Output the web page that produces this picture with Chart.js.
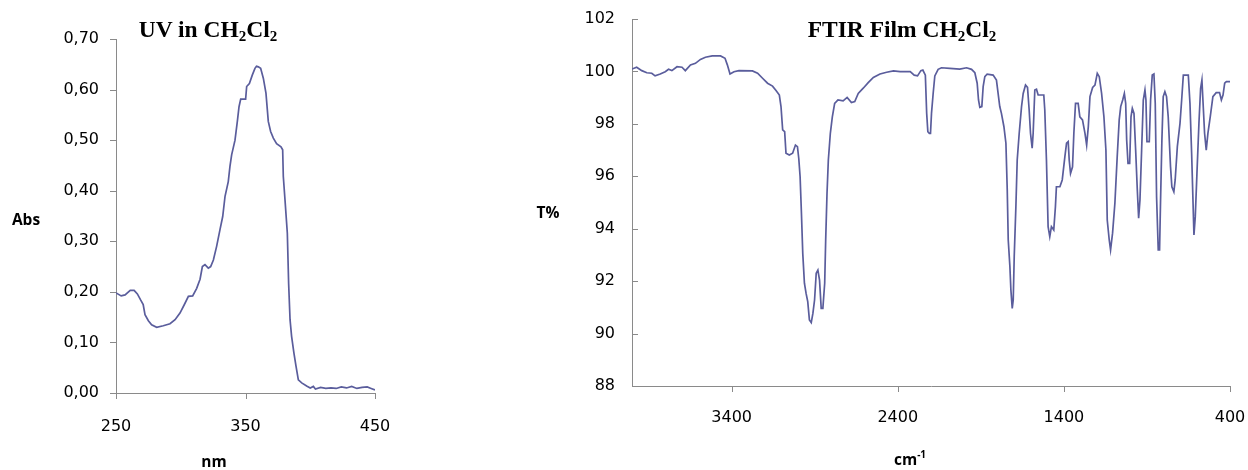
<!DOCTYPE html>
<html>
<head>
<meta charset="utf-8">
<script src="https://cdn.jsdelivr.net/npm/chart.js@4.4.1/dist/chart.umd.min.js"></script>
<style>
  body { margin: 0; background: #fff; width: 1248px; height: 470px; position: relative; overflow: hidden; }
  .box { position: absolute; top: 0; height: 470px; }
  .lbl { position: absolute; transform: translate(-50%, -50%); white-space: nowrap; color: #000; }
  .title { font-family: "Liberation Serif", "Times New Roman", serif; font-weight: bold; font-size: 23.5px; }
  .title sub { font-size: 15px; vertical-align: -4px; line-height: 0; }
  .axt { font-family: "Open Sans", sans-serif; font-weight: bold; font-size: 15.5px; }
  .axt sup { font-size: 10px; vertical-align: 7px; line-height: 0; }
</style>
</head>
<body>
<div class="box" style="left:0;width:400px"><canvas id="uvChart"></canvas></div>
<div class="box" style="left:500px;width:748px"><canvas id="irChart"></canvas></div>

<div class="lbl title" style="left:208px;top:29px">UV in CH<sub>2</sub>Cl<sub>2</sub></div>
<div class="lbl axt" style="left:26px;top:219px">Abs</div>
<div class="lbl axt" style="left:214px;top:461px">nm</div>

<div class="lbl title" style="left:902px;top:29px">FTIR Film CH<sub>2</sub>Cl<sub>2</sub></div>
<div class="lbl axt" style="left:548px;top:212px">T%</div>
<div class="lbl axt" style="left:910px;top:459px">cm<sup>-1</sup></div>

<script>
// UV 스펙트럼 (nm / Abs)
const uvNm = [250, 254, 257, 261, 264, 266.5, 269, 271, 272.4, 275, 277.5, 281.4, 286.5, 291.7, 295.6, 299.4, 302.8, 305.9, 309.2, 312.3,
    314.9, 316.7, 318.7, 321.3, 323.1, 325.2, 327.7, 330.3, 332.4, 334.2, 336.7, 338, 339.3, 341.9, 343.7, 345, 346.3, 350.1, 350.9, 353,
    355.3, 357.3, 358.5, 359.9, 361.7, 363.8, 365.8, 367.6, 369.4, 371.5, 374, 377.4, 378.7, 379.2, 380.5, 382.3, 383.3, 384.4, 385.6, 387.4,
    389, 390.8, 393.4, 397.2, 400, 402.4, 404, 408, 412, 416, 420, 424, 428, 432, 436, 440, 444, 447, 450];
const uvAbs = [0.198, 0.192, 0.194, 0.203, 0.203, 0.196, 0.184, 0.175, 0.155, 0.143, 0.135, 0.130, 0.133, 0.137, 0.145, 0.158, 0.175, 0.191, 0.192, 0.207,
    0.225, 0.250, 0.254, 0.247, 0.250, 0.263, 0.290, 0.323, 0.349, 0.389, 0.418, 0.448, 0.471, 0.500, 0.537, 0.566, 0.581, 0.581, 0.606, 0.612,
    0.629, 0.642, 0.646, 0.645, 0.642, 0.622, 0.593, 0.537, 0.517, 0.504, 0.493, 0.487, 0.481, 0.428, 0.382, 0.316, 0.217, 0.145, 0.112, 0.079,
    0.053, 0.026, 0.020, 0.014, 0.010, 0.013, 0.008, 0.011, 0.009, 0.010, 0.009, 0.012, 0.010, 0.013, 0.009, 0.011, 0.012, 0.009, 0.006];
const uvXTicks = [250, 350, 450];
const uvYTicks = [0, 0.1, 0.2, 0.3, 0.4, 0.5, 0.6, 0.7];

// FTIR 스펙트럼 (cm-1 / T%)
const irWn = [4000, 3972, 3941, 3911, 3881, 3861, 3830, 3800, 3780, 3760, 3729, 3699, 3679, 3648, 3618, 3588, 3558, 3517, 3467, 3440,
    3426, 3410, 3386, 3356, 3275, 3244, 3214, 3184, 3154, 3133, 3113, 3103, 3093, 3081, 3073, 3053, 3033, 3016, 3004, 2996,
    2988, 2980, 2972, 2962, 2952, 2942, 2932, 2921, 2911, 2901, 2891, 2881, 2871, 2861, 2851, 2840, 2834, 2826, 2818, 2806,
    2794, 2780, 2760, 2729, 2705, 2679, 2659, 2638, 2608, 2578, 2547, 2507, 2467, 2426, 2386, 2325, 2301, 2281, 2261, 2249,
    2234, 2226, 2219, 2210, 2203, 2197, 2187, 2177, 2157, 2137, 2087, 2027, 1986, 1956, 1936, 1922, 1914, 1906, 1894, 1886,
    1876, 1862, 1826, 1806, 1796, 1786, 1776, 1761, 1749, 1741, 1735, 1725, 1719, 1711, 1705, 1699, 1689, 1681, 1669, 1655,
    1645, 1631, 1619, 1609, 1601, 1591, 1585, 1575, 1565, 1555, 1521, 1515, 1505, 1495, 1485, 1475, 1461, 1451, 1445, 1424,
    1410, 1394, 1384, 1374, 1368, 1360, 1348, 1340, 1330, 1314, 1304, 1288, 1273, 1263, 1253, 1243, 1227, 1213, 1199, 1187,
    1173, 1159, 1147, 1139, 1127, 1119, 1107, 1093, 1079, 1067, 1058, 1046, 1036, 1028, 1022, 1014, 1004, 996, 988, 978,
    968, 958, 950, 942, 932, 922, 912, 906, 900, 886, 878, 868, 858, 850, 842, 832, 824, 818, 810, 802,
    792, 782, 772, 758, 750, 738, 730, 717, 701, 691, 681, 651, 641, 631, 623, 617, 609, 599, 587, 577,
    569, 563, 553, 543, 533, 519, 503, 483, 463, 452, 442, 432, 422, 400];
const irT = [100.09, 100.16, 100.03, 99.95, 99.93, 99.83, 99.90, 99.99, 100.08, 100.03, 100.18, 100.16, 100.03, 100.25, 100.31, 100.46, 100.54, 100.59, 100.59, 100.50,
    100.25, 99.90, 99.99, 100.03, 100.02, 99.93, 99.74, 99.55, 99.44, 99.27, 99.10, 98.66, 97.77, 97.70, 96.88, 96.81, 96.88, 97.19, 97.13, 96.68,
    95.98, 94.59, 93.06, 91.92, 91.53, 91.22, 90.52, 90.42, 90.77, 91.28, 92.30, 92.42, 92.04, 90.96, 90.96, 91.92, 93.57, 95.35, 96.62, 97.64,
    98.27, 98.78, 98.91, 98.88, 99.01, 98.81, 98.85, 99.16, 99.36, 99.57, 99.77, 99.90, 99.97, 100.02, 99.99, 99.99, 99.86, 99.83, 100.03, 100.05,
    99.86, 98.40, 97.70, 97.64, 97.64, 98.40, 99.16, 99.83, 100.08, 100.14, 100.12, 100.09, 100.14, 100.08, 99.95, 99.55, 98.91, 98.63, 98.66, 99.42,
    99.80, 99.90, 99.86, 99.67, 99.16, 98.66, 98.40, 97.89, 97.26, 95.48, 93.57, 92.55, 91.66, 90.96, 91.28, 92.93, 94.84, 96.62, 97.64, 98.66,
    99.16, 99.48, 99.39, 98.53, 97.64, 97.07, 97.64, 99.29, 99.32, 99.10, 99.10, 98.53, 96.62, 94.08, 93.70, 94.08, 93.95, 94.84, 95.60, 95.60,
    95.86, 96.75, 97.26, 97.32, 96.62, 96.11, 96.36, 97.64, 98.78, 98.78, 98.27, 98.15, 97.64, 97.19, 97.89, 99.04, 99.39, 99.48, 99.93, 99.80,
    99.16, 98.27, 97.00, 94.33, 93.57, 93.19, 93.83, 94.97, 96.75, 98.15, 98.66, 98.91, 99.16, 98.78, 97.38, 96.49, 96.49, 98.27, 98.59, 98.40,
    97.00, 95.48, 94.40, 95.10, 97.00, 98.91, 99.29, 98.91, 97.32, 97.32, 98.91, 99.86, 99.90, 98.78, 95.22, 93.19, 93.19, 95.10, 97.38, 99.04,
    99.23, 99.04, 98.27, 96.36, 95.60, 95.41, 95.86, 97.13, 98.02, 98.91, 99.86, 99.86, 98.78, 96.88, 95.10, 93.76, 94.46, 96.11, 98.02, 99.35,
    99.67, 98.91, 97.64, 97.00, 97.64, 98.27, 99.04, 99.19, 99.19, 98.91, 99.10, 99.55, 99.61, 99.61];
const irXTicks = [3400, 2400, 1400, 400];
const irYTicks = [88, 90, 92, 94, 96, 98, 100, 102];

const LINE_COLOR = '#5a5d9c';
const AXIS_COLOR = '#8a8a8a';
const TICK_FONT = { family: '"DejaVu Sans", sans-serif', size: 16 };

// 눈금 표시 (바깥/안쪽)
const tickMarks = {
    id: 'tickMarks',
    afterDraw(chart, args, opts) {
        const ctx = chart.ctx;
        const xs = chart.scales.x;
        const ys = chart.scales.y;
        ctx.save();
        ctx.strokeStyle = AXIS_COLOR;
        ctx.lineWidth = 1;
        ctx.beginPath();
        xs.ticks.forEach(t => {
            const px = Math.round(xs.getPixelForValue(t.value)) + 0.5;
            ctx.moveTo(px, ys.bottom);
            ctx.lineTo(px, ys.bottom + 6);
        });
        ys.ticks.forEach(t => {
            const py = Math.round(ys.getPixelForValue(t.value)) + 0.5;
            ctx.moveTo(xs.left, py);
            ctx.lineTo(xs.left + opts.yDir * 6, py);
        });
        ctx.stroke();
        ctx.restore();
    }
};

function makeChart(id, xs, ys, cfg) {
    return new Chart(document.getElementById(id).getContext('2d'), {
        type: 'line',
        data: {
            datasets: [{
                data: xs.map((x, i) => ({ x: x, y: ys[i] })),
                borderColor: LINE_COLOR,
                borderWidth: 1.7,
                pointRadius: 0,
                tension: 0,
                fill: false
            }]
        },
        options: {
            responsive: true,
            maintainAspectRatio: false,
            animation: false,
            events: [],
            layout: { padding: cfg.padding },
            plugins: {
                legend: { display: false },
                tooltip: { enabled: false },
                tickMarks: { yDir: cfg.yDir }
            },
            scales: {
                x: {
                    type: 'linear',
                    min: cfg.xMin,
                    max: cfg.xMax,
                    reverse: cfg.reverse,
                    grid: { display: false, drawTicks: false },
                    border: { color: AXIS_COLOR, width: 1 },
                    ticks: { color: '#000', font: TICK_FONT, padding: cfg.xPad, maxRotation: 0, callback: v => String(v) },
                    afterBuildTicks: s => { s.ticks = cfg.xTicks.map(v => ({ value: v })); },
                    afterFit: s => { s.height = cfg.xHeight; s.paddingLeft = 0; s.paddingRight = 0; }
                },
                y: {
                    min: cfg.yMin,
                    max: cfg.yMax,
                    grid: { display: false, drawTicks: false },
                    border: { color: AXIS_COLOR, width: 1 },
                    ticks: { color: '#000', font: TICK_FONT, padding: 17, callback: cfg.yFmt },
                    afterBuildTicks: s => { s.ticks = cfg.yTicks.map(v => ({ value: v })); },
                    afterFit: s => { s.width = cfg.yWidth; s.paddingTop = 0; s.paddingBottom = 0; }
                }
            }
        },
        plugins: [tickMarks]
    });
}

document.addEventListener('DOMContentLoaded', () => {
    makeChart('uvChart', uvNm, uvAbs, {
        padding: { top: 39, right: 25, bottom: 0, left: 0 },
        xMin: 250, xMax: 450, reverse: false, xTicks: uvXTicks, xPad: 24, xHeight: 77,
        yMin: 0, yMax: 0.7, yTicks: uvYTicks, yWidth: 116, yDir: -1,
        yFmt: v => v.toFixed(2).replace('.', ',')
    });
    makeChart('irChart', irWn, irT, {
        padding: { top: 19, right: 18, bottom: 0, left: 0 },
        xMin: 400, xMax: 4000, reverse: true, xTicks: irXTicks, xPad: 22, xHeight: 84,
        yMin: 88, yMax: 102, yTicks: irYTicks, yWidth: 132, yDir: 1,
        yFmt: v => String(v)
    });
});
</script>
</body>
</html>
